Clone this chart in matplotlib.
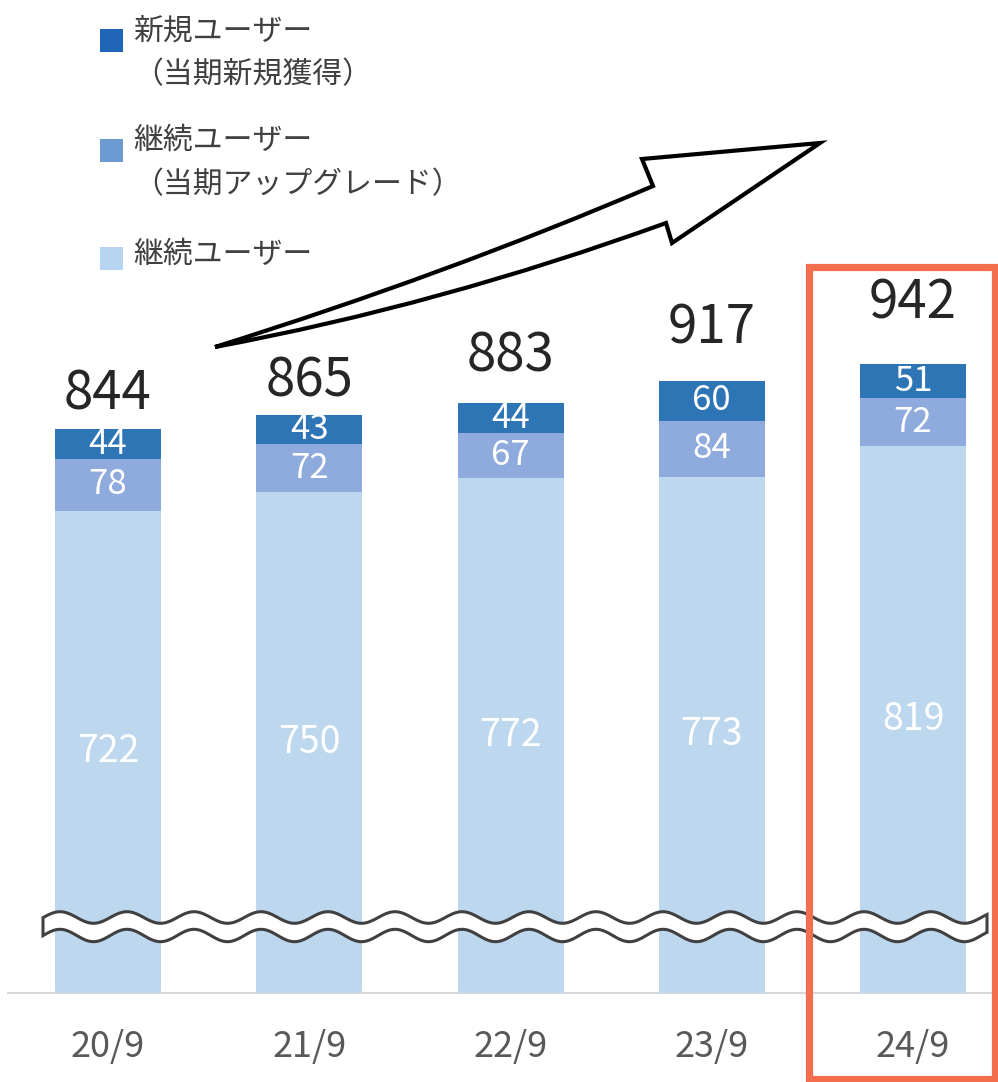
import numpy as np
import matplotlib
matplotlib.use("Agg")
import matplotlib.pyplot as plt
from matplotlib.path import Path
from matplotlib.patches import PathPatch, Rectangle

plt.rcParams['font.family'] = ['Noto Sans CJK JP', 'DejaVu Sans']

# data
periods = ['20/9', '21/9', '22/9', '23/9', '24/9']
users_cont = np.array([722, 750, 772, 773, 819])     # 継続ユーザー
users_upgrade = np.array([78, 72, 67, 84, 72])       # 継続ユーザー(当期アップグレード)
users_new = np.array([44, 43, 44, 60, 51])           # 新規ユーザー(当期新規獲得)
totals = users_cont + users_upgrade + users_new

legend_labels = ['新規ユーザー\n（当期新規獲得）',
                 '継続ユーザー\n（当期アップグレード）',
                 '継続ユーザー']

c_light = '#BDD7EE'
c_mid = '#8FAADC'
c_dark = '#2E75B6'
legend_colors = ['#1F66B8', '#6C9BD2', '#B6D3F0']

W, H = 998, 1082
fig = plt.figure(figsize=(W / 100, H / 100), dpi=100)
ax = fig.add_axes([0, 0, 1, 1])

# pixel layout: bar centres at 108 + 201.25*i, zero line at y=993, 0.6677 px per unit
px_unit = 0.6677
ax.set_xlim(-108 / 201.25, (W - 108) / 201.25)
ax.set_ylim(-(H - 993) / px_unit, 993 / px_unit)

x = np.arange(len(periods))
bw = 106 / 201.25
ax.bar(x, users_cont, width=bw, color=c_light, zorder=2)
ax.bar(x, users_upgrade, width=bw, bottom=users_cont, color=c_mid, zorder=2)
ax.bar(x, users_new, width=bw, bottom=users_cont + users_upgrade, color=c_dark, zorder=2)

for i in range(len(x)):
    ax.text(x[i], users_cont[i] / 2, str(users_cont[i]), ha='center', va='center',
            color='white', fontsize=27, zorder=3)
    ax.text(x[i], users_cont[i] + users_upgrade[i] / 2, str(users_upgrade[i]),
            ha='center', va='center', color='white', fontsize=25, zorder=3)
    ax.text(x[i], users_cont[i] + users_upgrade[i] + users_new[i] / 2, str(users_new[i]),
            ha='center', va='center', color='white', fontsize=25, zorder=3)

# total labels sit at uneven heights above the bars (pixels)
total_gap = [35, 34, 47, 53, 61]
for i in range(len(x)):
    ax.annotate(str(totals[i]), (x[i], totals[i]), xytext=(0, total_gap[i]),
                textcoords='offset pixels', ha='center', va='center',
                fontsize=38, color='#262626', zorder=3)

ax.set_xticks(x, periods)
ax.tick_params(axis='x', length=0, pad=-38, labelsize=26, labelcolor='#595959')
ax.set_yticks([])
for s in ax.spines.values():
    s.set_visible(False)
ax.axhline(0, xmin=8 / W, xmax=1, color='#D9D9D9', lw=1.5, zorder=1)

# overlay in pixel coordinates for the decorations
ov = fig.add_axes([0, 0, 1, 1])
ov.set_xlim(0, W)
ov.set_ylim(H, 0)
ov.axis('off')
ov.patch.set_alpha(0)

# wavy break band
xs = np.linspace(43, 987, 400)
ph = np.cos(2 * np.pi * (xs - 127) / 67)
top = 917.5 - 5.8 * ph
bot = 935.5 - 6.2 * ph
verts = np.vstack([np.column_stack([xs, top]), np.column_stack([xs[::-1], bot[::-1]])])
ov.fill(verts[:, 0], verts[:, 1], facecolor='white', edgecolor='#404040', lw=2.2, zorder=4)

# arrow
arrow_verts = [(215, 347), (445, 275), (653, 186), (642, 159), (820, 143),
               (672, 243), (666, 223), (440, 305), (215, 347), (215, 347)]
codes = [Path.MOVETO, Path.CURVE3, Path.CURVE3, Path.LINETO, Path.LINETO,
         Path.LINETO, Path.LINETO, Path.CURVE3, Path.CURVE3, Path.CLOSEPOLY]
ov.add_patch(PathPatch(Path(arrow_verts, codes), facecolor='white', edgecolor='black',
                       lw=3.0, joinstyle='miter', zorder=5))

# highlight box
ov.add_patch(Rectangle((809.5, 267), 186, 812, fill=False, edgecolor='#F26E4C',
                       lw=5.2, zorder=6, clip_on=False))

# legend
sq_top = [29, 139, 247]
txt_top = [15, 125, 239]
for i in range(3):
    ov.add_patch(Rectangle((100, sq_top[i]), 23, 23,
                           facecolor=legend_colors[i], edgecolor='none', zorder=5))
    ov.text(133, txt_top[i], legend_labels[i], ha='left', va='top', fontsize=21.5,
            color='#404040', linespacing=1.55, zorder=5)

fig.savefig('out.png', dpi=100)
